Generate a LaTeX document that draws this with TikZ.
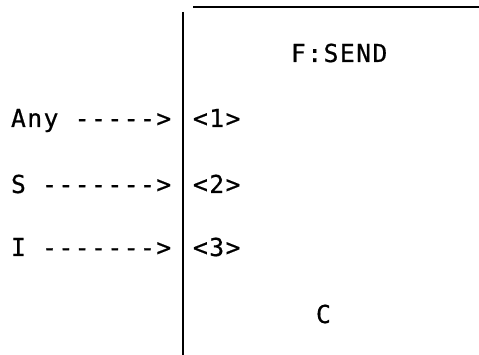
\documentclass[tikz,border=0pt]{standalone}
\usepackage{fontspec}
\newfontfamily\diagfont[LetterSpace=5.8,FakeBold=0.6]{DejaVu Sans Mono}
\begin{document}
\begin{tikzpicture}[x=1pt,y=1pt,
  lbl/.style={inner sep=0pt,outer sep=0pt,anchor=base west,font=\diagfont\fontsize{24.7}{28}\selectfont},
  rule/.style={line width=2.2pt,black}]
\useasboundingbox (0,0) rectangle (479,-355);
\coordinate (vtop) at (183,-12);
\coordinate (vbot) at (183,-355);
\coordinate (hl) at (193,-7);
\coordinate (hr) at (479,-7);
\draw[rule] (vtop) -- (vbot);
\draw[line width=1.5pt] (hl) -- (hr);
\node[lbl] (title) at (291,-62) {F:SEND};
\node[lbl] (in1) at (11,-127) {Any ----->};
\node[lbl] (in2) at (11,-193) {S ------->};
\node[lbl] (in3) at (11,-256) {I ------->};
\node[lbl] (p1) at (193,-127) {<1>};
\node[lbl] (p2) at (193,-193) {<2>};
\node[lbl] (p3) at (193,-256) {<3>};
\node[lbl] (c) at (316,-323) {C};
\end{tikzpicture}
\end{document}
